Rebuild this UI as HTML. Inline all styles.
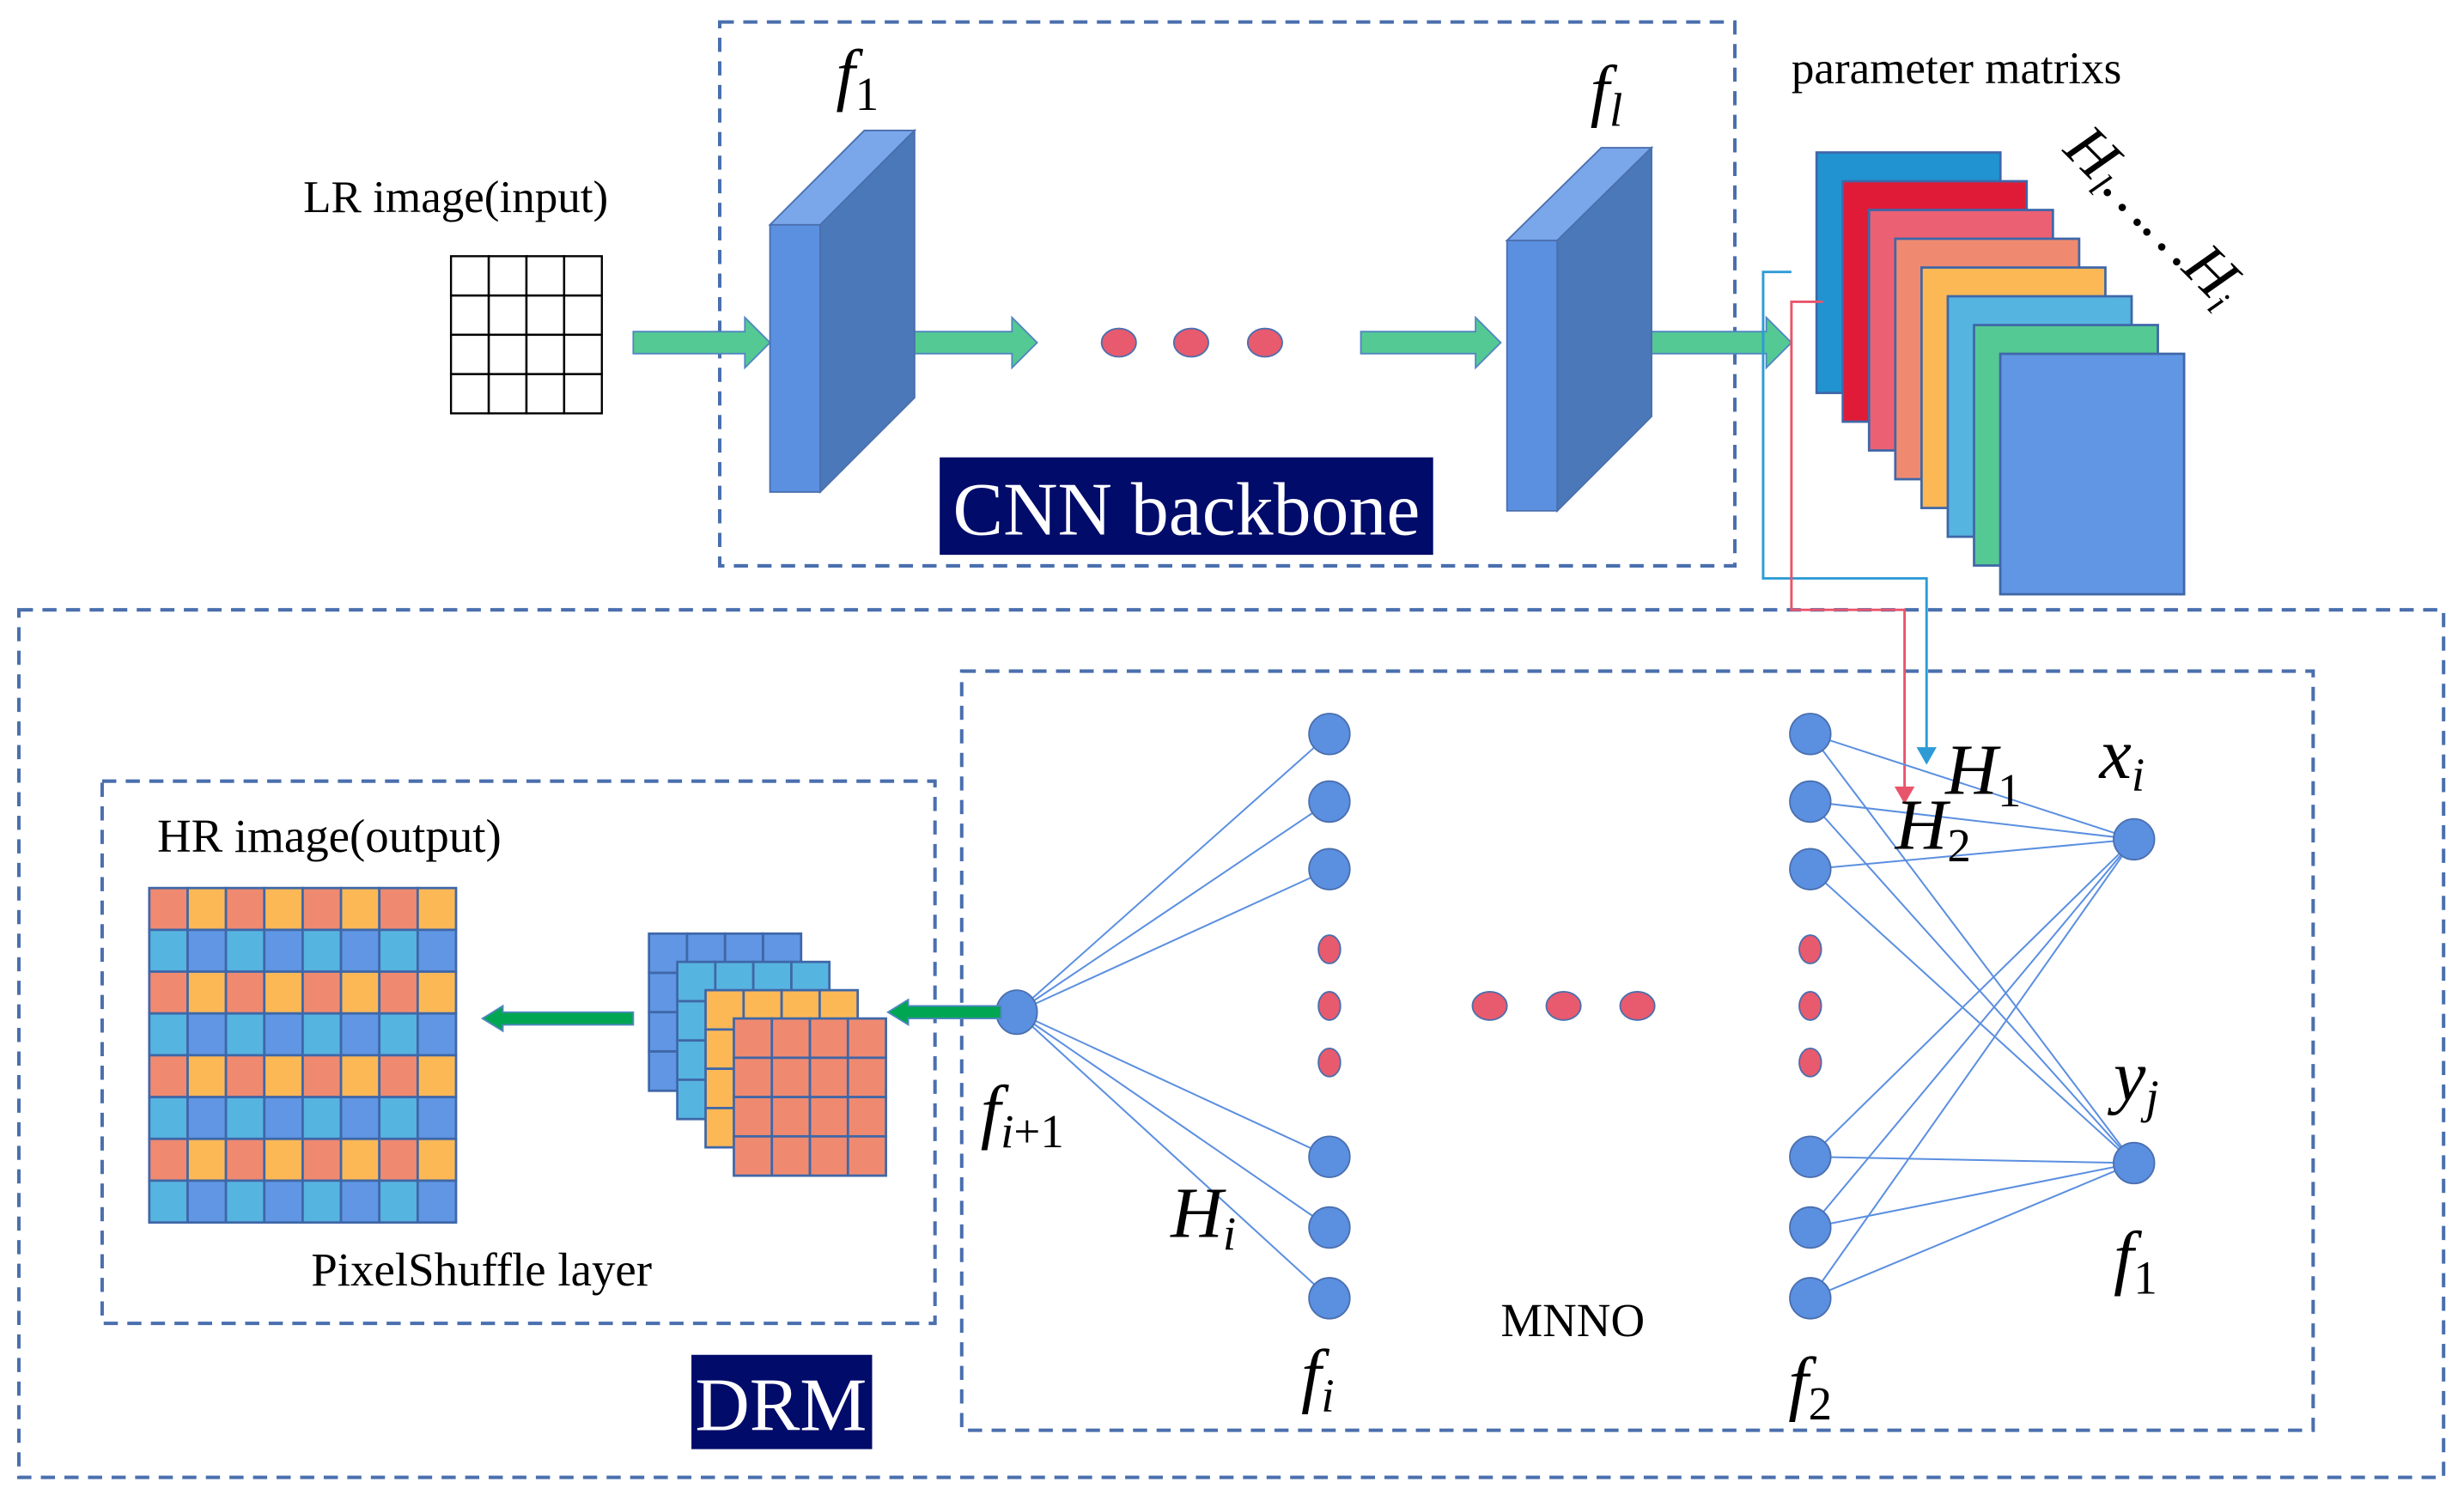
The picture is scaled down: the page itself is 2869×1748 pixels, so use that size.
<!DOCTYPE html>
<html><head><meta charset="utf-8"><style>
html,body{margin:0;padding:0;background:#fff;}
svg{display:block;}
svg text{font-family:'Liberation Serif','DejaVu Serif',serif !important;fill:#000;}
</style></head><body>
<svg id="s" width="2869" height="1748" viewBox="0 0 1568 955" preserveAspectRatio="none" xmlns="http://www.w3.org/2000/svg" font-family="Liberation Serif, DejaVu Serif, serif">
<defs>
<marker id="ab" markerWidth="8" markerHeight="8" refX="6" refY="4" orient="auto"><path d="M0,0 L7,4 L0,8 z" fill="#2e9bd6"/></marker>
<marker id="ar" markerWidth="8" markerHeight="8" refX="6" refY="4" orient="auto"><path d="M0,0 L7,4 L0,8 z" fill="#e8556b"/></marker>
</defs>
<g fill="none" stroke="#4a6fae" stroke-width="2.2" stroke-dasharray="9,6">
<rect x="458" y="14" width="646" height="346"/>
<rect x="12" y="388" width="1543" height="552"/>
<rect x="612" y="427" width="860" height="483"/>
<rect x="65" y="497" width="530" height="345"/>
</g>
<text x="193" y="135" font-size="29">LR image(input)</text>
<g id="lr" stroke="#000" stroke-width="1.3" fill="none"></g>
<g id="arrows" fill="#55c994" stroke="#4f86c0" stroke-width="1"></g>
<polygon points="490,143 522,143 522,313 490,313" fill="#5b8fe0" stroke="#4a6fae"/>
<polygon points="490,143 550,83 582,83 522,143" fill="#7aa6ea" stroke="#4a6fae"/>
<polygon points="522,143 582,83 582,253 522,313" fill="#4a78b8" stroke="#4a6fae"/>
<polygon points="959,153 991,153 991,325 959,325" fill="#5b8fe0" stroke="#4a6fae"/>
<polygon points="959,153 1019,94 1051,94 991,153" fill="#7aa6ea" stroke="#4a6fae"/>
<polygon points="991,153 1051,94 1051,265 991,325" fill="#4a78b8" stroke="#4a6fae"/>
<g fill="#e85a6e" stroke="#4a6fae" stroke-width="1">
<ellipse cx="712" cy="218" rx="11" ry="9"/><ellipse cx="758" cy="218" rx="11" ry="9"/><ellipse cx="805" cy="218" rx="11" ry="9"/>
</g>
<text x="532" y="62" font-size="44" font-style="italic">f<tspan font-size="30" font-style="normal" dy="8">1</tspan></text>
<text x="1012" y="72" font-size="44" font-style="italic">f<tspan font-size="30" dy="8">l</tspan></text>
<rect x="598" y="291" width="314" height="62" fill="#000b6a"/>
<text x="755" y="340" font-size="48" text-anchor="middle" style="fill:#fff">CNN backbone</text>
<text x="1140" y="53" font-size="29">parameter matrixs</text>
<g id="stk" stroke="#3f67a8" stroke-width="1.5"></g>
<text transform="translate(1312,96) rotate(45)" font-size="40" font-style="italic">H<tspan font-size="24" dy="6">l</tspan><tspan dy="-6">……</tspan><tspan>H</tspan><tspan font-size="24" dy="6">i</tspan></text>
<polyline points="1140,173 1122,173 1122,368 1226,368 1226,485" fill="none" stroke="#2e9bd6" stroke-width="1.6" marker-end="url(#ab)"/>
<polyline points="1160,192 1140,192 1140,388 1212,388 1212,510" fill="none" stroke="#e8556b" stroke-width="1.6" marker-end="url(#ar)"/>
<g id="lines" stroke="#5b8fe0" stroke-width="1.1"></g>
<g id="nodes"></g>
<text x="624" y="722" font-size="46" font-style="italic">f<tspan font-size="30" dy="8">i</tspan><tspan font-size="30" font-style="normal">+1</tspan></text>
<text x="745" y="787" font-size="46" font-style="italic">H<tspan font-size="30" dy="8">i</tspan></text>
<text x="828" y="890" font-size="46" font-style="italic">f<tspan font-size="30" dy="8">i</tspan></text>
<text x="1138" y="895" font-size="46" font-style="italic">f<tspan font-size="30" font-style="normal" dy="8">2</tspan></text>
<text x="955" y="850" font-size="30">MNNO</text>
<text x="1238" y="505" font-size="46" font-style="italic">H<tspan font-size="30" font-style="normal" dy="8">1</tspan></text>
<text x="1206" y="540" font-size="46" font-style="italic">H<tspan font-size="30" font-style="normal" dy="8">2</tspan></text>
<text x="1336" y="495" font-size="46" font-style="italic">x<tspan font-size="30" dy="8">i</tspan></text>
<text x="1345" y="700" font-size="46" font-style="italic">y<tspan font-size="30" dy="8">j</tspan></text>
<text x="1345" y="815" font-size="46" font-style="italic">f<tspan font-size="30" font-style="normal" dy="8">1</tspan></text>
<rect x="440" y="862" width="115" height="60" fill="#000b6a"/>
<text x="497" y="910" font-size="48" text-anchor="middle" style="fill:#fff">DRM</text>
<text x="100" y="542" font-size="30">HR image(output)</text>
<text x="198" y="818" font-size="30">PixelShuffle layer</text>
<g id="ps" stroke="#3f67a8" stroke-width="1.5"></g>
<g id="hr" stroke="#3f67a8" stroke-width="1.5"></g>
<g stroke="#4f86c0" stroke-width="1" fill="#00a651">
<polygon points="637,640 578,640 578,636 565,644 578,652 578,648 637,648"/>
<polygon points="403,644 320,644 320,640 307,648 320,656 320,652 403,652"/>
</g>
</svg>
<script>
var NS="http://www.w3.org/2000/svg";
function el(p,t,a){var e=document.createElementNS(NS,t);for(var k in a)e.setAttribute(k,a[k]);document.getElementById(p).appendChild(e);return e;}
for(var i=0;i<4;i++)for(var j=0;j<4;j++)el("lr","rect",{x:287+i*24,y:163+j*25,width:24,height:25});
[[403,490],[573,660],[866,955],[1051,1140]].forEach(function(a){var x0=a[0],x1=a[1];
el("arrows","polygon",{points:x0+",211 "+(x1-16)+",211 "+(x1-16)+",202 "+x1+",218 "+(x1-16)+",234 "+(x1-16)+",225 "+x0+",225"});});
var cols=["#2193d0","#e01b38","#ec6074","#ef8a70","#fdb856","#56b4e0","#55c994","#6096e3"];
cols.forEach(function(c,k){el("stk","rect",{x:1156+k*16.7,y:97+k*18.3,width:117,height:153,fill:c});});
var L=[467,510,553,736,781,826];
L.forEach(function(y){el("lines","line",{x1:647,y1:644,x2:846,y2:y});
[534,740].forEach(function(o){el("lines","line",{x1:1152,y1:y,x2:1358,y2:o});});});
L.forEach(function(y){el("nodes","ellipse",{cx:846,cy:y,rx:13,ry:13,fill:"#5b8fe0",stroke:"#4a6fae"});el("nodes","ellipse",{cx:1152,cy:y,rx:13,ry:13,fill:"#5b8fe0",stroke:"#4a6fae"});});
[604,640,676].forEach(function(y){[846,1152].forEach(function(x){el("nodes","ellipse",{cx:x,cy:y,rx:7,ry:9,fill:"#e85a6e",stroke:"#4a6fae"});});});
[948,995,1042].forEach(function(x){el("nodes","ellipse",{cx:x,cy:640,rx:11,ry:9,fill:"#e85a6e",stroke:"#4a6fae"});});
el("nodes","ellipse",{cx:647,cy:644,rx:13,ry:14,fill:"#5b8fe0",stroke:"#4a6fae"});
el("nodes","ellipse",{cx:1358,cy:534,rx:13,ry:13,fill:"#5b8fe0",stroke:"#4a6fae"});
el("nodes","ellipse",{cx:1358,cy:740,rx:13,ry:13,fill:"#5b8fe0",stroke:"#4a6fae"});
var pc=["#6096e3","#56b4e0","#fdb856","#ef8a70"];
pc.forEach(function(c,k){var x=413+k*18,y=594+k*18;for(var i=0;i<4;i++)for(var j=0;j<4;j++)el("ps","rect",{x:x+i*24.2,y:y+j*25,width:24.2,height:25,fill:c});});
for(var r=0;r<8;r++)for(var c=0;c<8;c++){var col=(r%2==0)?(c%2==0?"#ef8a70":"#fdb856"):(c%2==0?"#56b4e0":"#6096e3");
el("hr","rect",{x:95+c*24.4,y:565+r*26.6,width:24.4,height:26.6,fill:col});}
</script>
</body></html>
